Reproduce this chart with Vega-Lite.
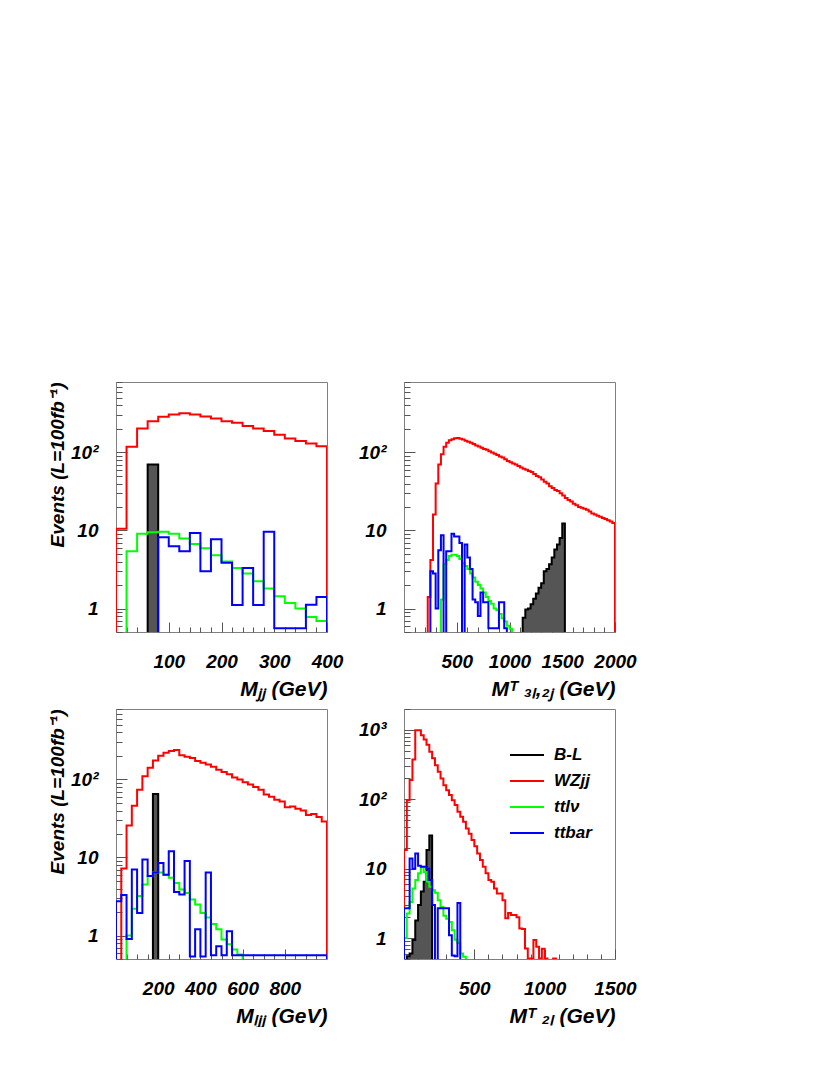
{
  "$schema": "https://vega.github.io/schema/vega-lite/v6.json",
  "background": "white",
  "padding": {"left": 48, "top": 372, "right": 0, "bottom": 0},
  "autosize": {"type": "pad"},
  "columns": 2,
  "spacing": 77,
  "bounds": "flush",
  "resolve": {"scale": {"color": "independent", "x": "independent", "y": "independent"}, "legend": {"color": "independent"}},
  "config": {
    "view": {"stroke": "#808080", "strokeWidth": 1},
    "axis": {"domain": false, "grid": false, "labelFont": "Liberation Sans", "labelFontWeight": "bold", "labelFontStyle": "italic", "labelFontSize": 19, "labelColor": "black", "tickColor": "#555555", "tickWidth": 1, "titleFont": "Liberation Sans", "titleFontWeight": "bold", "titleFontStyle": "italic", "titleFontSize": 19, "titleColor": "black", "labelOverlap": false, "labelFlush": false},
    "axisX": {"labelPadding": 30, "titleAnchor": "end", "titlePadding": 2, "titleFontSize": 21},
    "axisY": {"labelPadding": 29, "titleAnchor": "end", "titlePadding": 3}
  },
  "concat": [
    {
      "width": 211, "height": 250,
      "data": {"values": [
        {"x":0,"B-L":0.1,"WZjj":0.1,"ttlν":0.1,"ttbar":0.1},
        {"x":0,"B-L":0.1,"WZjj":10.5,"ttlν":0.1,"ttbar":0.1},
        {"x":20,"B-L":0.1,"WZjj":118,"ttlν":5.4,"ttbar":0.1},
        {"x":40,"B-L":0.1,"WZjj":203,"ttlν":9.1,"ttbar":0.1},
        {"x":60,"B-L":70,"WZjj":252,"ttlν":9.5,"ttbar":0.1},
        {"x":80,"B-L":0.1,"WZjj":286,"ttlν":9.6,"ttbar":8.2},
        {"x":100,"B-L":0.1,"WZjj":307,"ttlν":9.1,"ttbar":6.3},
        {"x":120,"B-L":0.1,"WZjj":319,"ttlν":7.9,"ttbar":5.4},
        {"x":140,"B-L":0.1,"WZjj":307,"ttlν":6.7,"ttbar":9.3},
        {"x":160,"B-L":0.1,"WZjj":290,"ttlν":5.9,"ttbar":3.0},
        {"x":180,"B-L":0.1,"WZjj":273,"ttlν":4.8,"ttbar":7.7},
        {"x":200,"B-L":0.1,"WZjj":252,"ttlν":4.0,"ttbar":3.85},
        {"x":220,"B-L":0.1,"WZjj":240,"ttlν":3.3,"ttbar":1.11},
        {"x":240,"B-L":0.1,"WZjj":218,"ttlν":2.8,"ttbar":3.3},
        {"x":260,"B-L":0.1,"WZjj":203,"ttlν":2.24,"ttbar":1.11},
        {"x":280,"B-L":0.1,"WZjj":188,"ttlν":1.8,"ttbar":9.6},
        {"x":300,"B-L":0.1,"WZjj":169,"ttlν":1.44,"ttbar":0.56},
        {"x":320,"B-L":0.1,"WZjj":151,"ttlν":1.18,"ttbar":0.56},
        {"x":340,"B-L":0.1,"WZjj":140,"ttlν":1.0,"ttbar":0.56},
        {"x":360,"B-L":0.1,"WZjj":130,"ttlν":0.78,"ttbar":1.12},
        {"x":380,"B-L":0.1,"WZjj":120,"ttlν":0.69,"ttbar":1.4},
        {"x":400,"B-L":0.1,"WZjj":120,"ttlν":0.69,"ttbar":1.4},
        {"x":400,"B-L":0.1,"WZjj":0.1,"ttlν":0.1,"ttbar":0.1}
      ]},
      "transform": [{"fold": ["B-L", "WZjj", "ttlν", "ttbar"], "as": ["s", "v"]}],
      "encoding": {
        "x": {"field": "x", "type": "quantitative", "scale": {"domain": [0, 400], "nice": false, "zero": false},
          "axis": {"values": [20,40,60,80,100,120,140,160,180,200,220,240,260,280,300,320,340,360,380,400],
            "labelExpr": "datum.value % 100 == 0 ? '' + datum.value : ''",
            "tickSize": {"condition": {"test": "datum.value % 100 == 0", "value": -10}, "value": -5},
            "title": "Mⱼⱼ (GeV)"}},
        "y": {"field": "v", "type": "quantitative", "scale": {"type": "log", "domain": [0.5, 800], "nice": false},
          "axis": {"values": [0.5,0.6,0.7,0.8,0.9,1,2,3,4,5,6,7,8,9,10,20,30,40,50,60,70,80,90,100,200,300,400,500,600,700,800],
            "labelExpr": "datum.value == 1 ? '1' : datum.value == 10 ? '10' : datum.value == 100 ? '10²' : ''",
            "tickSize": {"condition": {"test": "datum.value == 1 || datum.value == 10 || datum.value == 100", "value": -11}, "value": -6},
            "title": "Events (L=100fb⁻¹)"}}
      },
      "layer": [
        {"transform": [{"filter": "datum.s == 'B-L'"}], "mark": {"type": "area", "interpolate": "step-after", "color": "#555555", "clip": true}, "encoding": {"y2": {"datum": 0.5}}},
        {"mark": {"type": "line", "interpolate": "step-after", "strokeWidth": 2, "clip": true},
          "encoding": {"color": {"field": "s", "type": "nominal", "scale": {"domain": ["B-L", "WZjj", "ttlν", "ttbar"], "range": ["#000000", "#ff0000", "#00ff00", "#0000ff"]}, "legend": null}}}
      ]
    },
    {
      "width": 211, "height": 250,
      "data": {"values": [
        {"x":0,"B-L":0.1,"WZjj":0.1,"ttlν":0.1,"ttbar":0.1},
        {"x":225,"B-L":0.1,"WZjj":1.4,"ttlν":0.1,"ttbar":0.1},
        {"x":250,"B-L":0.1,"WZjj":4.2,"ttlν":0.1,"ttbar":3.0},
        {"x":275,"B-L":0.1,"WZjj":16,"ttlν":0.1,"ttbar":2.8},
        {"x":300,"B-L":0.1,"WZjj":40,"ttlν":0.1,"ttbar":1.0},
        {"x":325,"B-L":0.1,"WZjj":70,"ttlν":0.1,"ttbar":5.6},
        {"x":350,"B-L":0.1,"WZjj":95,"ttlν":1.3,"ttbar":8.7},
        {"x":375,"B-L":0.1,"WZjj":118,"ttlν":3.7,"ttbar":0.1},
        {"x":400,"B-L":0.1,"WZjj":133,"ttlν":4.2,"ttbar":5.4},
        {"x":425,"B-L":0.1,"WZjj":143,"ttlν":4.7,"ttbar":5.4},
        {"x":450,"B-L":0.1,"WZjj":148,"ttlν":4.9,"ttbar":9.1},
        {"x":475,"B-L":0.1,"WZjj":152,"ttlν":4.9,"ttbar":8.4},
        {"x":500,"B-L":0.1,"WZjj":153,"ttlν":4.7,"ttbar":8.4},
        {"x":525,"B-L":0.1,"WZjj":150,"ttlν":4.3,"ttbar":6.9},
        {"x":550,"B-L":0.1,"WZjj":147,"ttlν":3.8,"ttbar":0.1},
        {"x":575,"B-L":0.1,"WZjj":141,"ttlν":3.5,"ttbar":6.6},
        {"x":600,"B-L":0.1,"WZjj":137,"ttlν":3.2,"ttbar":4.5},
        {"x":625,"B-L":0.1,"WZjj":133,"ttlν":2.8,"ttbar":3.2},
        {"x":650,"B-L":0.1,"WZjj":128,"ttlν":2.5,"ttbar":1.3},
        {"x":675,"B-L":0.1,"WZjj":123,"ttlν":2.2,"ttbar":1.2},
        {"x":700,"B-L":0.1,"WZjj":119,"ttlν":2.0,"ttbar":0.8},
        {"x":725,"B-L":0.1,"WZjj":115,"ttlν":1.8,"ttbar":1.6},
        {"x":750,"B-L":0.1,"WZjj":111,"ttlν":1.6,"ttbar":1.2},
        {"x":775,"B-L":0.1,"WZjj":108,"ttlν":1.4,"ttbar":1.2},
        {"x":800,"B-L":0.1,"WZjj":104,"ttlν":1.25,"ttbar":0.56},
        {"x":825,"B-L":0.1,"WZjj":100,"ttlν":1.15,"ttbar":0.56},
        {"x":850,"B-L":0.1,"WZjj":96,"ttlν":1.0,"ttbar":0.56},
        {"x":875,"B-L":0.1,"WZjj":93,"ttlν":0.95,"ttbar":0.56},
        {"x":900,"B-L":0.1,"WZjj":89,"ttlν":0.85,"ttbar":1.2},
        {"x":925,"B-L":0.1,"WZjj":86,"ttlν":0.75,"ttbar":1.2},
        {"x":950,"B-L":0.1,"WZjj":82,"ttlν":0.68,"ttbar":0.56},
        {"x":975,"B-L":0.1,"WZjj":78,"ttlν":0.6,"ttbar":0.1},
        {"x":1000,"B-L":0.1,"WZjj":75,"ttlν":0.55,"ttbar":0.1},
        {"x":1025,"B-L":0.1,"WZjj":72,"ttlν":0.1,"ttbar":0.1},
        {"x":1050,"B-L":0.1,"WZjj":70,"ttlν":0.1,"ttbar":0.1},
        {"x":1075,"B-L":0.1,"WZjj":67,"ttlν":0.1,"ttbar":0.1},
        {"x":1100,"B-L":0.1,"WZjj":64,"ttlν":0.1,"ttbar":0.1},
        {"x":1125,"B-L":0.76,"WZjj":62,"ttlν":0.1,"ttbar":0.1},
        {"x":1150,"B-L":0.97,"WZjj":60,"ttlν":0.1,"ttbar":0.1},
        {"x":1175,"B-L":1.0,"WZjj":58,"ttlν":0.1,"ttbar":0.1},
        {"x":1200,"B-L":1.13,"WZjj":56,"ttlν":0.1,"ttbar":0.1},
        {"x":1225,"B-L":1.33,"WZjj":53,"ttlν":0.1,"ttbar":0.1},
        {"x":1250,"B-L":1.56,"WZjj":50,"ttlν":0.1,"ttbar":0.1},
        {"x":1275,"B-L":1.84,"WZjj":48,"ttlν":0.1,"ttbar":0.1},
        {"x":1300,"B-L":2.1,"WZjj":45,"ttlν":0.1,"ttbar":0.1},
        {"x":1325,"B-L":3.0,"WZjj":42,"ttlν":0.1,"ttbar":0.1},
        {"x":1350,"B-L":3.2,"WZjj":40,"ttlν":0.1,"ttbar":0.1},
        {"x":1375,"B-L":3.7,"WZjj":37,"ttlν":0.1,"ttbar":0.1},
        {"x":1400,"B-L":4.5,"WZjj":35,"ttlν":0.1,"ttbar":0.1},
        {"x":1425,"B-L":5.7,"WZjj":33,"ttlν":0.1,"ttbar":0.1},
        {"x":1450,"B-L":6.6,"WZjj":32,"ttlν":0.1,"ttbar":0.1},
        {"x":1475,"B-L":8.0,"WZjj":30,"ttlν":0.1,"ttbar":0.1},
        {"x":1500,"B-L":12.3,"WZjj":28,"ttlν":0.1,"ttbar":0.1},
        {"x":1525,"B-L":0.1,"WZjj":26,"ttlν":0.1,"ttbar":0.1},
        {"x":1550,"B-L":0.1,"WZjj":24.5,"ttlν":0.1,"ttbar":0.1},
        {"x":1575,"B-L":0.1,"WZjj":23.5,"ttlν":0.1,"ttbar":0.1},
        {"x":1600,"B-L":0.1,"WZjj":22,"ttlν":0.1,"ttbar":0.1},
        {"x":1625,"B-L":0.1,"WZjj":21,"ttlν":0.1,"ttbar":0.1},
        {"x":1650,"B-L":0.1,"WZjj":20,"ttlν":0.1,"ttbar":0.1},
        {"x":1675,"B-L":0.1,"WZjj":19.5,"ttlν":0.1,"ttbar":0.1},
        {"x":1700,"B-L":0.1,"WZjj":19,"ttlν":0.1,"ttbar":0.1},
        {"x":1725,"B-L":0.1,"WZjj":18.5,"ttlν":0.1,"ttbar":0.1},
        {"x":1750,"B-L":0.1,"WZjj":17.5,"ttlν":0.1,"ttbar":0.1},
        {"x":1775,"B-L":0.1,"WZjj":16.5,"ttlν":0.1,"ttbar":0.1},
        {"x":1800,"B-L":0.1,"WZjj":16,"ttlν":0.1,"ttbar":0.1},
        {"x":1825,"B-L":0.1,"WZjj":15.5,"ttlν":0.1,"ttbar":0.1},
        {"x":1850,"B-L":0.1,"WZjj":15,"ttlν":0.1,"ttbar":0.1},
        {"x":1875,"B-L":0.1,"WZjj":14.5,"ttlν":0.1,"ttbar":0.1},
        {"x":1900,"B-L":0.1,"WZjj":14,"ttlν":0.1,"ttbar":0.1},
        {"x":1925,"B-L":0.1,"WZjj":13.5,"ttlν":0.1,"ttbar":0.1},
        {"x":1950,"B-L":0.1,"WZjj":13,"ttlν":0.1,"ttbar":0.1},
        {"x":1975,"B-L":0.1,"WZjj":12.5,"ttlν":0.1,"ttbar":0.1},
        {"x":2000,"B-L":0.1,"WZjj":12.5,"ttlν":0.1,"ttbar":0.1},
        {"x":2000,"B-L":0.1,"WZjj":0.1,"ttlν":0.1,"ttbar":0.1}
      ]},
      "transform": [{"fold": ["B-L", "WZjj", "ttlν", "ttbar"], "as": ["s", "v"]}],
      "encoding": {
        "x": {"field": "x", "type": "quantitative", "scale": {"domain": [0, 2000], "nice": false, "zero": false},
          "axis": {"values": [100,200,300,400,500,600,700,800,900,1000,1100,1200,1300,1400,1500,1600,1700,1800,1900,2000],
            "labelExpr": "datum.value % 500 == 0 ? '' + datum.value : ''",
            "tickSize": {"condition": {"test": "datum.value % 500 == 0", "value": -10}, "value": -5},
            "title": "Mᵀ ₃ₗ,₂ⱼ (GeV)"}},
        "y": {"field": "v", "type": "quantitative", "scale": {"type": "log", "domain": [0.5, 800], "nice": false},
          "axis": {"values": [0.5,0.6,0.7,0.8,0.9,1,2,3,4,5,6,7,8,9,10,20,30,40,50,60,70,80,90,100,200,300,400,500,600,700,800],
            "labelExpr": "datum.value == 1 ? '1' : datum.value == 10 ? '10' : datum.value == 100 ? '10²' : ''",
            "tickSize": {"condition": {"test": "datum.value == 1 || datum.value == 10 || datum.value == 100", "value": -11}, "value": -6},
            "title": null}}
      },
      "layer": [
        {"transform": [{"filter": "datum.s == 'B-L'"}], "mark": {"type": "area", "interpolate": "step-after", "color": "#555555", "clip": true}, "encoding": {"y2": {"datum": 0.5}}},
        {"mark": {"type": "line", "interpolate": "step-after", "strokeWidth": 2, "clip": true},
          "encoding": {"color": {"field": "s", "type": "nominal", "scale": {"domain": ["B-L", "WZjj", "ttlν", "ttbar"], "range": ["#000000", "#ff0000", "#00ff00", "#0000ff"]}, "legend": null}}}
      ]
    },
    {
      "width": 211, "height": 250,
      "data": {"values": [
        {"x":0,"B-L":0.1,"WZjj":0.1,"ttlν":0.1,"ttbar":0.1},
        {"x":0,"B-L":0.1,"WZjj":0.1,"ttlν":0.1,"ttbar":2.75},
        {"x":25,"B-L":0.1,"WZjj":7.2,"ttlν":0.1,"ttbar":3.3},
        {"x":50,"B-L":0.1,"WZjj":25.7,"ttlν":1.0,"ttbar":0.9},
        {"x":75,"B-L":0.1,"WZjj":46,"ttlν":2.2,"ttbar":7.0},
        {"x":100,"B-L":0.1,"WZjj":74,"ttlν":3.2,"ttbar":1.95},
        {"x":125,"B-L":0.1,"WZjj":110,"ttlν":4.5,"ttbar":9.4},
        {"x":150,"B-L":0.1,"WZjj":141,"ttlν":5.8,"ttbar":5.8},
        {"x":175,"B-L":65,"WZjj":175,"ttlν":6.4,"ttbar":6.4},
        {"x":200,"B-L":0.1,"WZjj":202,"ttlν":6.4,"ttbar":8.5},
        {"x":225,"B-L":0.1,"WZjj":220,"ttlν":6.0,"ttbar":6.0},
        {"x":250,"B-L":0.1,"WZjj":231,"ttlν":5.5,"ttbar":12},
        {"x":275,"B-L":0.1,"WZjj":238,"ttlν":4.7,"ttbar":3.6},
        {"x":300,"B-L":0.1,"WZjj":205,"ttlν":3.9,"ttbar":3.35},
        {"x":325,"B-L":0.1,"WZjj":195,"ttlν":3.5,"ttbar":9.0},
        {"x":350,"B-L":0.1,"WZjj":188,"ttlν":2.9,"ttbar":0.54},
        {"x":375,"B-L":0.1,"WZjj":172,"ttlν":2.5,"ttbar":1.2},
        {"x":400,"B-L":0.1,"WZjj":164,"ttlν":1.95,"ttbar":0.54},
        {"x":425,"B-L":0.1,"WZjj":155,"ttlν":1.7,"ttbar":6.4},
        {"x":450,"B-L":0.1,"WZjj":145,"ttlν":1.4,"ttbar":0.56},
        {"x":475,"B-L":0.1,"WZjj":133,"ttlν":1.2,"ttbar":0.73},
        {"x":500,"B-L":0.1,"WZjj":125,"ttlν":0.89,"ttbar":0.56},
        {"x":525,"B-L":0.1,"WZjj":117,"ttlν":0.77,"ttbar":1.13},
        {"x":550,"B-L":0.1,"WZjj":106,"ttlν":0.66,"ttbar":0.56},
        {"x":575,"B-L":0.1,"WZjj":100,"ttlν":0.57,"ttbar":0.56},
        {"x":600,"B-L":0.1,"WZjj":92,"ttlν":0.1,"ttbar":0.56},
        {"x":625,"B-L":0.1,"WZjj":86,"ttlν":0.1,"ttbar":0.56},
        {"x":650,"B-L":0.1,"WZjj":80,"ttlν":0.1,"ttbar":0.56},
        {"x":675,"B-L":0.1,"WZjj":74,"ttlν":0.1,"ttbar":0.56},
        {"x":700,"B-L":0.1,"WZjj":64,"ttlν":0.1,"ttbar":0.56},
        {"x":725,"B-L":0.1,"WZjj":60,"ttlν":0.1,"ttbar":0.56},
        {"x":750,"B-L":0.1,"WZjj":55,"ttlν":0.1,"ttbar":0.56},
        {"x":775,"B-L":0.1,"WZjj":52,"ttlν":0.1,"ttbar":0.56},
        {"x":800,"B-L":0.1,"WZjj":44,"ttlν":0.1,"ttbar":0.56},
        {"x":825,"B-L":0.1,"WZjj":45,"ttlν":0.1,"ttbar":0.56},
        {"x":850,"B-L":0.1,"WZjj":42,"ttlν":0.1,"ttbar":0.56},
        {"x":875,"B-L":0.1,"WZjj":40,"ttlν":0.1,"ttbar":0.56},
        {"x":900,"B-L":0.1,"WZjj":35,"ttlν":0.1,"ttbar":0.56},
        {"x":925,"B-L":0.1,"WZjj":36,"ttlν":0.1,"ttbar":0.56},
        {"x":950,"B-L":0.1,"WZjj":33,"ttlν":0.1,"ttbar":0.56},
        {"x":975,"B-L":0.1,"WZjj":29,"ttlν":0.1,"ttbar":0.56},
        {"x":1000,"B-L":0.1,"WZjj":29,"ttlν":0.1,"ttbar":0.56},
        {"x":1000,"B-L":0.1,"WZjj":0.1,"ttlν":0.1,"ttbar":0.1}
      ]},
      "transform": [{"fold": ["B-L", "WZjj", "ttlν", "ttbar"], "as": ["s", "v"]}],
      "encoding": {
        "x": {"field": "x", "type": "quantitative", "scale": {"domain": [0, 1000], "nice": false, "zero": false},
          "axis": {"values": [50,100,150,200,250,300,350,400,450,500,550,600,650,700,750,800,850,900,950],
            "labelExpr": "datum.value % 200 == 0 ? '' + datum.value : ''",
            "tickSize": {"condition": {"test": "datum.value % 200 == 0", "value": -10}, "value": -5},
            "title": "Mₗⱼⱼ (GeV)"}},
        "y": {"field": "v", "type": "quantitative", "scale": {"type": "log", "domain": [0.5, 800], "nice": false},
          "axis": {"values": [0.5,0.6,0.7,0.8,0.9,1,2,3,4,5,6,7,8,9,10,20,30,40,50,60,70,80,90,100,200,300,400,500,600,700,800],
            "labelExpr": "datum.value == 1 ? '1' : datum.value == 10 ? '10' : datum.value == 100 ? '10²' : ''",
            "tickSize": {"condition": {"test": "datum.value == 1 || datum.value == 10 || datum.value == 100", "value": -11}, "value": -6},
            "title": "Events (L=100fb⁻¹)"}}
      },
      "layer": [
        {"transform": [{"filter": "datum.s == 'B-L'"}], "mark": {"type": "area", "interpolate": "step-after", "color": "#555555", "clip": true}, "encoding": {"y2": {"datum": 0.5}}},
        {"mark": {"type": "line", "interpolate": "step-after", "strokeWidth": 2, "clip": true},
          "encoding": {"color": {"field": "s", "type": "nominal", "scale": {"domain": ["B-L", "WZjj", "ttlν", "ttbar"], "range": ["#000000", "#ff0000", "#00ff00", "#0000ff"]}, "legend": null}}}
      ]
    },
    {
      "width": 211, "height": 250,
      "data": {"values": [
        {"x":0,"B-L":0.1,"WZjj":0.1,"ttlν":0.1,"ttbar":0.1},
        {"x":0,"B-L":0.1,"WZjj":18.6,"ttlν":1.0,"ttbar":2.7},
        {"x":20,"B-L":0.55,"WZjj":97,"ttlν":2.27,"ttbar":2.7},
        {"x":40,"B-L":0.6,"WZjj":189,"ttlν":3.3,"ttbar":14},
        {"x":60,"B-L":0.94,"WZjj":375,"ttlν":5.2,"ttbar":10},
        {"x":80,"B-L":1.8,"WZjj":985,"ttlν":6.9,"ttbar":16.6},
        {"x":100,"B-L":3.0,"WZjj":985,"ttlν":8.6,"ttbar":11},
        {"x":120,"B-L":4.7,"WZjj":840,"ttlν":10.7,"ttbar":10.7},
        {"x":140,"B-L":6.5,"WZjj":730,"ttlν":9.0,"ttbar":10.7},
        {"x":160,"B-L":18.6,"WZjj":610,"ttlν":6.5,"ttbar":10},
        {"x":180,"B-L":30,"WZjj":485,"ttlν":5.5,"ttbar":6.9},
        {"x":200,"B-L":0.1,"WZjj":390,"ttlν":4.9,"ttbar":3.0},
        {"x":220,"B-L":0.1,"WZjj":310,"ttlν":4.5,"ttbar":0.1},
        {"x":240,"B-L":0.1,"WZjj":250,"ttlν":3.5,"ttbar":2.7},
        {"x":260,"B-L":0.1,"WZjj":200,"ttlν":2.8,"ttbar":2.7},
        {"x":280,"B-L":0.1,"WZjj":160,"ttlν":2.1,"ttbar":2.7},
        {"x":300,"B-L":0.1,"WZjj":135,"ttlν":1.9,"ttbar":2.7},
        {"x":320,"B-L":0.1,"WZjj":115,"ttlν":1.7,"ttbar":1.1},
        {"x":340,"B-L":0.1,"WZjj":97,"ttlν":1.3,"ttbar":0.56},
        {"x":360,"B-L":0.1,"WZjj":83,"ttlν":0.95,"ttbar":0.55},
        {"x":380,"B-L":0.1,"WZjj":66,"ttlν":0.85,"ttbar":3.2},
        {"x":400,"B-L":0.1,"WZjj":56,"ttlν":0.6,"ttbar":0.1},
        {"x":420,"B-L":0.1,"WZjj":47.5,"ttlν":0.54,"ttbar":0.1},
        {"x":440,"B-L":0.1,"WZjj":38,"ttlν":0.1,"ttbar":0.1},
        {"x":460,"B-L":0.1,"WZjj":32,"ttlν":0.1,"ttbar":0.1},
        {"x":480,"B-L":0.1,"WZjj":26,"ttlν":0.1,"ttbar":0.1},
        {"x":500,"B-L":0.1,"WZjj":21,"ttlν":0.1,"ttbar":0.1},
        {"x":520,"B-L":0.1,"WZjj":16.6,"ttlν":0.1,"ttbar":0.1},
        {"x":540,"B-L":0.1,"WZjj":13.3,"ttlν":0.1,"ttbar":0.1},
        {"x":560,"B-L":0.1,"WZjj":10.7,"ttlν":0.1,"ttbar":0.1},
        {"x":580,"B-L":0.1,"WZjj":8.6,"ttlν":0.1,"ttbar":0.1},
        {"x":600,"B-L":0.1,"WZjj":6.9,"ttlν":0.1,"ttbar":0.1},
        {"x":620,"B-L":0.1,"WZjj":6.5,"ttlν":0.1,"ttbar":0.1},
        {"x":640,"B-L":0.1,"WZjj":5.2,"ttlν":0.1,"ttbar":0.1},
        {"x":660,"B-L":0.1,"WZjj":4.4,"ttlν":0.1,"ttbar":0.1},
        {"x":680,"B-L":0.1,"WZjj":4.4,"ttlν":0.1,"ttbar":0.1},
        {"x":700,"B-L":0.1,"WZjj":3.5,"ttlν":0.1,"ttbar":0.1},
        {"x":720,"B-L":0.1,"WZjj":1.93,"ttlν":0.1,"ttbar":0.1},
        {"x":740,"B-L":0.1,"WZjj":2.3,"ttlν":0.1,"ttbar":0.1},
        {"x":760,"B-L":0.1,"WZjj":2.15,"ttlν":0.1,"ttbar":0.1},
        {"x":780,"B-L":0.1,"WZjj":2.15,"ttlν":0.1,"ttbar":0.1},
        {"x":800,"B-L":0.1,"WZjj":2.0,"ttlν":0.1,"ttbar":0.1},
        {"x":820,"B-L":0.1,"WZjj":1.38,"ttlν":0.1,"ttbar":0.1},
        {"x":840,"B-L":0.1,"WZjj":1.35,"ttlν":0.1,"ttbar":0.1},
        {"x":860,"B-L":0.1,"WZjj":0.71,"ttlν":0.1,"ttbar":0.1},
        {"x":880,"B-L":0.1,"WZjj":0.51,"ttlν":0.1,"ttbar":0.1},
        {"x":900,"B-L":0.1,"WZjj":0.51,"ttlν":0.1,"ttbar":0.1},
        {"x":920,"B-L":0.1,"WZjj":0.94,"ttlν":0.1,"ttbar":0.1},
        {"x":940,"B-L":0.1,"WZjj":0.75,"ttlν":0.1,"ttbar":0.1},
        {"x":960,"B-L":0.1,"WZjj":0.51,"ttlν":0.1,"ttbar":0.1},
        {"x":980,"B-L":0.1,"WZjj":0.7,"ttlν":0.1,"ttbar":0.1},
        {"x":1000,"B-L":0.1,"WZjj":0.51,"ttlν":0.1,"ttbar":0.1},
        {"x":1020,"B-L":0.1,"WZjj":0.1,"ttlν":0.1,"ttbar":0.1},
        {"x":1060,"B-L":0.1,"WZjj":0.51,"ttlν":0.1,"ttbar":0.1},
        {"x":1080,"B-L":0.1,"WZjj":0.1,"ttlν":0.1,"ttbar":0.1},
        {"x":1500,"B-L":0.1,"WZjj":0.1,"ttlν":0.1,"ttbar":0.1}
      ]},
      "transform": [{"fold": ["B-L", "WZjj", "ttlν", "ttbar"], "as": ["s", "v"]}],
      "encoding": {
        "x": {"field": "x", "type": "quantitative", "scale": {"domain": [0, 1500], "nice": false, "zero": false},
          "axis": {"values": [100,200,300,400,500,600,700,800,900,1000,1100,1200,1300,1400,1500],
            "labelExpr": "datum.value % 500 == 0 ? '' + datum.value : ''",
            "tickSize": {"condition": {"test": "datum.value % 500 == 0", "value": -10}, "value": -5},
            "title": "Mᵀ ₂ₗ (GeV)"}},
        "y": {"field": "v", "type": "quantitative", "scale": {"type": "log", "domain": [0.5, 2000], "nice": false},
          "axis": {"values": [0.5,0.6,0.7,0.8,0.9,1,2,3,4,5,6,7,8,9,10,20,30,40,50,60,70,80,90,100,200,300,400,500,600,700,800,900,1000,2000],
            "labelExpr": "datum.value == 1 ? '1' : datum.value == 10 ? '10' : datum.value == 100 ? '10²' : datum.value == 1000 ? '10³' : ''",
            "tickSize": {"condition": {"test": "datum.value == 1 || datum.value == 10 || datum.value == 100 || datum.value == 1000", "value": -11}, "value": -6},
            "title": null}}
      },
      "layer": [
        {"transform": [{"filter": "datum.s == 'B-L'"}], "mark": {"type": "area", "interpolate": "step-after", "color": "#555555", "clip": true}, "encoding": {"y2": {"datum": 0.5}}},
        {"mark": {"type": "line", "interpolate": "step-after", "strokeWidth": 2, "clip": true},
          "encoding": {"color": {"field": "s", "type": "nominal", "scale": {"domain": ["B-L", "WZjj", "ttlν", "ttbar"], "range": ["#000000", "#ff0000", "#00ff00", "#0000ff"]},
            "legend": {"orient": "none", "legendX": 105, "legendY": 28, "title": null, "symbolType": "stroke", "symbolSize": 1156, "symbolStrokeWidth": 2, "labelFont": "Liberation Sans", "labelFontSize": 17, "labelFontWeight": "bold", "labelFontStyle": "italic", "labelColor": "black", "rowPadding": -7, "labelOffset": 9}}}}
      ]
    }
  ]
}
